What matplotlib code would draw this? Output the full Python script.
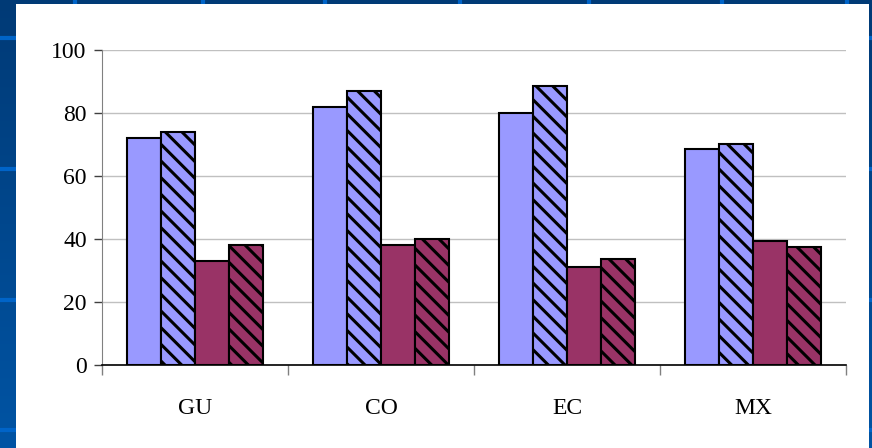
import numpy as np
import matplotlib
matplotlib.use('Agg')
import matplotlib.pyplot as plt
from matplotlib.patches import Rectangle

# data
categories = ['GU', 'CO', 'EC', 'MX']
series_a = [72, 82, 80, 68.5]
series_a_hatch = [74, 87, 88.5, 70]
series_b = [33, 38, 31, 39.5]
series_b_hatch = [38, 40, 33.5, 37.5]
y_ticks = [0, 20, 40, 60, 80, 100]

plt.rcParams['font.family'] = ['Liberation Serif', 'DejaVu Serif']
plt.rcParams['hatch.linewidth'] = 2.2

W, H = 872, 448
fig = plt.figure(figsize=(W / 100, H / 100), dpi=100)

# slide background: blue gradient with a lighter grid
bg = fig.add_axes([0, 0, 1, 1])
grad = np.linspace(0, 1, 256).reshape(-1, 1)
cmap = matplotlib.colors.LinearSegmentedColormap.from_list('bg', ['#003A76', '#0054A4'])
bg.imshow(grad, aspect='auto', cmap=cmap, extent=[0, W, H, 0])
for x in [75, 203, 325, 460, 589, 722, 847]:
    bg.plot([x, x], [0, H], color='#0064C8', lw=3)
for y in [38, 169, 300, 430]:
    bg.plot([0, W], [y, y], color='#0064C8', lw=3)
bg.add_patch(Rectangle((16, 4), 853, 444, facecolor='white', edgecolor='none', zorder=10))
bg.set_xlim(0, W)
bg.set_ylim(H, 0)
bg.axis('off')

ax = fig.add_axes([102 / W, 1 - 365 / H, (846 - 102) / W, (365 - 50) / H])
ax.set_facecolor('none')

x = np.arange(len(categories))
w = 0.183
common = dict(width=w, edgecolor='black', linewidth=1.5, zorder=3)
ax.bar(x - 1.5 * w, series_a, color='#9999FF', **common)
ax.bar(x - 0.5 * w, series_a_hatch, color='#9999FF', hatch='\\\\', **common)
ax.bar(x + 0.5 * w, series_b, color='#993366', **common)
ax.bar(x + 1.5 * w, series_b_hatch, color='#993366', hatch='\\\\', **common)

ax.set_xlim(-0.5, len(categories) - 0.5)
ax.set_ylim(0, 100)
ax.set_yticks(y_ticks)
ax.set_yticklabels([str(t) for t in y_ticks], fontsize=17)
ax.yaxis.grid(True, color='#C0C0C0', lw=1)
ax.set_axisbelow(True)

ax.set_xticks(np.arange(-0.5, len(categories)), minor=False)
ax.set_xticklabels([])
ax.set_xticks(x, minor=True)
ax.set_xticklabels(categories, minor=True, fontsize=17)
ax.tick_params(axis='x', which='major', direction='out', length=7, color='#808080', width=1)
ax.tick_params(axis='x', which='minor', length=0, pad=24)
ax.tick_params(axis='y', direction='out', length=6, color='#404040', width=1, pad=5)

for s in ['top', 'right']:
    ax.spines[s].set_visible(False)
ax.spines['left'].set_color('#808080')
ax.spines['bottom'].set_color('black')
ax.spines['bottom'].set_linewidth(1.2)

fig.savefig('out.png', dpi=100)
